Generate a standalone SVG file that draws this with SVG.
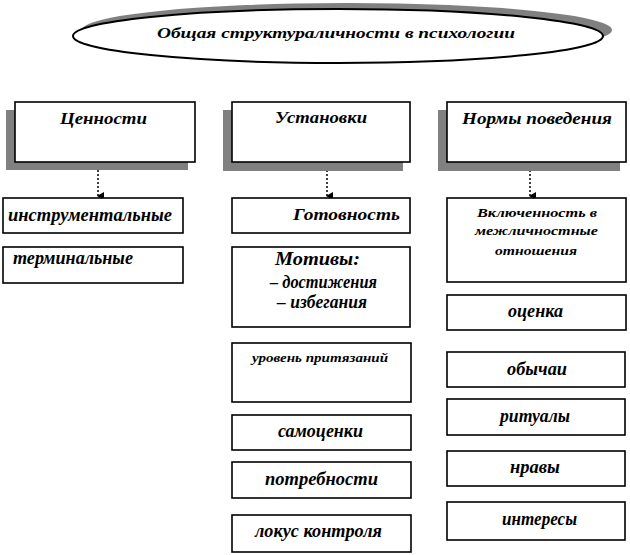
<svg xmlns="http://www.w3.org/2000/svg" width="630" height="555" viewBox="0 0 630 555">
<defs>
<style>
.b{fill:#fff;stroke:#000;stroke-width:1.6}
.s{fill:#808080}
.t{font-family:"Liberation Serif","Times New Roman",serif;font-weight:bold;font-style:italic;fill:#000}
.n{font-family:"Liberation Serif","Times New Roman",serif;font-weight:bold;font-style:italic;fill:#000}
.c{stroke:#000;stroke-width:1.5;stroke-dasharray:2,2;fill:none}
</style>
<marker id="ah" markerWidth="8" markerHeight="8" refX="4" refY="7" orient="auto" markerUnits="userSpaceOnUse">
<path d="M0,1 L8,1 L4,8 Z" fill="#000"/>
</marker>
</defs>
<rect width="630" height="555" fill="#fff"/>
<g id="title">
<ellipse class="s" cx="347" cy="30" rx="265" ry="27"/>
<ellipse cx="338" cy="36" rx="265" ry="27" fill="#fff" stroke="#000" stroke-width="2"/>
<text class="t" x="157" y="38" font-size="15" textLength="358" lengthAdjust="spacingAndGlyphs">Общая структураличности в психологии</text>
</g>
<g id="connectors">
<line x1="98" y1="162" x2="98" y2="196" class="c" marker-end="url(#ah)"/>
<line x1="327" y1="162" x2="327" y2="196" class="c" marker-end="url(#ah)"/>
<line x1="530" y1="162" x2="530" y2="196" class="c" marker-end="url(#ah)"/>
</g>
<g id="values">
<rect class="s" x="6" y="110" width="182" height="60"/>
<rect class="b" x="15" y="102" width="180" height="60"/>
<text class="t" x="60" y="124" font-size="17" textLength="87" lengthAdjust="spacingAndGlyphs">Ценности</text>
</g>
<g id="attitudes">
<rect class="s" x="223" y="110" width="180" height="61"/>
<rect class="b" x="232" y="102" width="178" height="60"/>
<text class="t" x="275" y="123" font-size="17" textLength="92" lengthAdjust="spacingAndGlyphs">Установки</text>
</g>
<g id="norms">
<rect class="s" x="438" y="110" width="182" height="61"/>
<rect class="b" x="447" y="102" width="179" height="60"/>
<text class="t" x="462" y="124" font-size="17" textLength="150" lengthAdjust="spacingAndGlyphs">Нормы поведения</text>
</g>
<g id="instrumental">
<rect class="b" x="3" y="198" width="180" height="35"/>
<text class="n" x="8" y="221" font-size="19" textLength="164" lengthAdjust="spacingAndGlyphs">инструментальные</text>
</g>
<g id="terminal">
<rect class="b" x="3" y="247" width="180" height="36"/>
<text class="n" x="13" y="264" font-size="19" textLength="120" lengthAdjust="spacingAndGlyphs">терминальные</text>
</g>
<g id="readiness">
<rect class="b" x="232" y="198" width="178" height="35"/>
<text class="t" x="293" y="220" font-size="17" textLength="107" lengthAdjust="spacingAndGlyphs">Готовность</text>
</g>
<g id="motives">
<rect class="b" x="232" y="247" width="178" height="80"/>
<text class="n" x="275" y="265" font-size="18" textLength="85" lengthAdjust="spacingAndGlyphs">Мотивы:</text>
<text class="n" x="270" y="288" font-size="18" textLength="107" lengthAdjust="spacingAndGlyphs">– достижения</text>
<text class="n" x="277" y="308" font-size="18" textLength="90" lengthAdjust="spacingAndGlyphs">– избегания</text>
</g>
<g id="aspiration">
<rect class="b" x="232" y="343" width="179" height="59"/>
<text class="t" x="252" y="362" font-size="12" textLength="136" lengthAdjust="spacingAndGlyphs">уровень притязаний</text>
</g>
<g id="selfesteem">
<rect class="b" x="232" y="415" width="179" height="35"/>
<text class="n" x="278" y="437" font-size="19" textLength="85" lengthAdjust="spacingAndGlyphs">самоценки</text>
</g>
<g id="needs">
<rect class="b" x="232" y="462" width="179" height="36"/>
<text class="n" x="265" y="485" font-size="19" textLength="113" lengthAdjust="spacingAndGlyphs">потребности</text>
</g>
<g id="locus">
<rect class="b" x="232" y="515" width="179" height="37"/>
<text class="n" x="255" y="537" font-size="19" textLength="127" lengthAdjust="spacingAndGlyphs">локус контроля</text>
</g>
<g id="inclusion">
<rect class="b" x="447" y="198" width="179" height="84"/>
<text class="t" x="477" y="217" font-size="12" textLength="120" lengthAdjust="spacingAndGlyphs">Включенность в</text>
<text class="t" x="475" y="235" font-size="12" textLength="123" lengthAdjust="spacingAndGlyphs">межличностные</text>
<text class="t" x="495" y="255" font-size="12" textLength="82" lengthAdjust="spacingAndGlyphs">отношения</text>
</g>
<g id="evaluation">
<rect class="b" x="447" y="295" width="179" height="35"/>
<text class="n" x="508" y="317" font-size="19" textLength="55" lengthAdjust="spacingAndGlyphs">оценка</text>
</g>
<g id="customs">
<rect class="b" x="447" y="352" width="178" height="35"/>
<text class="n" x="507" y="375" font-size="19" textLength="60" lengthAdjust="spacingAndGlyphs">обычаи</text>
</g>
<g id="rituals">
<rect class="b" x="447" y="399" width="178" height="36"/>
<text class="n" x="500" y="422" font-size="19" textLength="70" lengthAdjust="spacingAndGlyphs">ритуалы</text>
</g>
<g id="morals">
<rect class="b" x="447" y="451" width="178" height="35"/>
<text class="n" x="510" y="473" font-size="19" textLength="50" lengthAdjust="spacingAndGlyphs">нравы</text>
</g>
<g id="interests">
<rect class="b" x="447" y="502" width="178" height="38"/>
<text class="n" x="502" y="525" font-size="19" textLength="75" lengthAdjust="spacingAndGlyphs">интересы</text>
</g>
</svg>
